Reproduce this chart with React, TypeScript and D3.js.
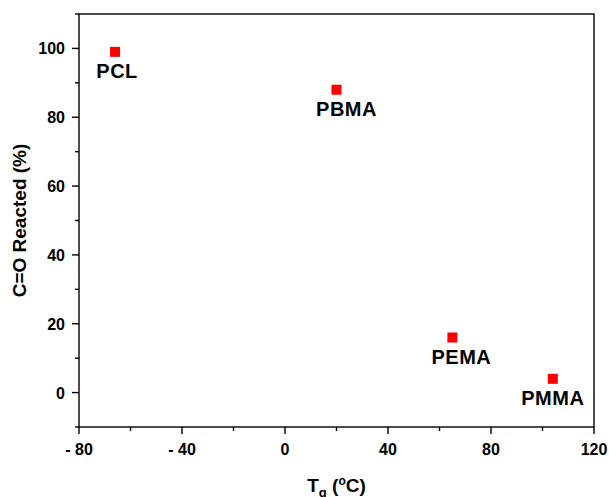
import React from "react";
import * as d3 from "d3";

const names = ["PCL", "PBMA", "PEMA", "PMMA"];
const tg = [-66, 20, 65, 104];
const reacted = [99, 88, 16, 4];
const labelDx = [2, 10, 9, 0];
const xTicks = [-80, -40, 0, 40, 80, 120];
const xMinor = [-60, -20, 20, 60, 100];
const yTicks = [0, 20, 40, 60, 80, 100];
const yMinor = [-10, 10, 30, 50, 70, 90, 110];

export default function App() {
  const W = 609, H = 497;
  const left = 79, right = 594, top = 14, bottom = 427;
  const x = d3.scaleLinear().domain([-80, 120]).range([left, right]);
  const y = d3.scaleLinear().domain([-10, 110]).range([bottom, top]);
  const font = "Arial, 'Liberation Sans', sans-serif";
  const fmt = (v: number) => (v < 0 ? "- " + Math.abs(v) : String(v));
  return (
    <svg width={W} height={H} style={{ position: "absolute", left: 0, top: 0 }} fontFamily={font}>
      <rect x={left} y={top} width={right - left} height={bottom - top} fill="none" stroke="#000" strokeWidth={1.4} />
      {xTicks.map((t) => (
        <g key={"xt" + t}>
          <line x1={x(t)} x2={x(t)} y1={bottom} y2={bottom + 7} stroke="#000" strokeWidth={1.4} />
          <text x={x(t)} y={bottom + 28} textAnchor="middle" fontSize={16} fontWeight="bold">{fmt(t)}</text>
        </g>
      ))}
      {xMinor.map((t) => (
        <line key={"xm" + t} x1={x(t)} x2={x(t)} y1={bottom} y2={bottom + 4} stroke="#000" strokeWidth={1.4} />
      ))}
      {yTicks.map((t) => (
        <g key={"yt" + t}>
          <line x1={left - 7} x2={left} y1={y(t)} y2={y(t)} stroke="#000" strokeWidth={1.4} />
          <text x={left - 14} y={y(t) + 6} textAnchor="end" fontSize={16} fontWeight="bold">{t}</text>
        </g>
      ))}
      {yMinor.map((t) => (
        <line key={"ym" + t} x1={left - 4} x2={left} y1={y(t)} y2={y(t)} stroke="#000" strokeWidth={1.4} />
      ))}
      {names.map((n, i) => (
        <g key={n}>
          <rect x={x(tg[i]) - 5} y={y(reacted[i]) - 5} width={10} height={10} fill="#ff0000" />
          <text x={x(tg[i]) + labelDx[i]} y={y(reacted[i]) + 26} textAnchor="middle" fontSize={20} fontWeight="bold" letterSpacing={0.5}>{n}</text>
        </g>
      ))}
      <text transform={`translate(26,${(top + bottom) / 2}) rotate(-90)`} textAnchor="middle" fontSize={19} fontWeight="bold">C=O Reacted (%)</text>
      <text x={(left + right) / 2} y={492} textAnchor="middle" fontSize={19} fontWeight="bold">
        T<tspan fontSize={13} dy={5}>g</tspan><tspan dy={-5}> (</tspan><tspan fontSize={12} dy={-7}>o</tspan><tspan dy={7}>C)</tspan>
      </text>
    </svg>
  );
}
